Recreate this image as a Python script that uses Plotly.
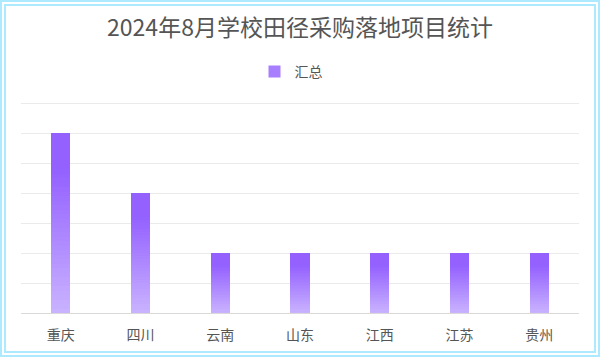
import plotly.graph_objects as go

categories = ["重庆", "四川", "云南", "山东", "江西", "江苏", "贵州"]
values = [6, 4, 2, 2, 2, 2, 2]
series_name = "汇总"
title_text = "2024年8月学校田径采购落地项目统计"

W, H = 600, 357
ML, MR, MT, MB = 21, 21, 100, 44
N = 40  # gradient slices

def hex2rgb(h):
    h = h.lstrip("#")
    return tuple(int(h[i:i + 2], 16) for i in (0, 2, 4))

bottom_c = hex2rgb("#c9b2ff")
top_c = hex2rgb("#9461ff")

def lerp(t):
    r = [round(bottom_c[i] + (top_c[i] - bottom_c[i]) * t) for i in range(3)]
    return f"rgb({r[0]},{r[1]},{r[2]})"

fig = go.Figure()
for k in range(N):
    t = min(1.0, (k / (N - 1)) * 1.25)
    fig.add_trace(go.Bar(
        x=categories,
        y=[v / N for v in values],
        marker=dict(color=lerp(t), line=dict(width=0)),
        name=series_name,
        showlegend=(k == N // 2),
        hoverinfo="skip",
    ))

pw = W - ML - MR
ph = H - MT - MB

def px2x(px):
    return (px - ML) / pw

def py2y(py):
    return (H - MB - py) / ph

border = "#aeeaff"
shapes = [
    dict(type="rect", xref="paper", yref="paper",
         x0=px2x(1), x1=px2x(W - 1), y0=py2y(H - 1), y1=py2y(1),
         line=dict(color=border, width=2), layer="above"),
    dict(type="rect", xref="paper", yref="paper",
         x0=px2x(5), x1=px2x(W - 5), y0=py2y(H - 5), y1=py2y(5),
         line=dict(color=border, width=2), layer="above"),
]

fig.update_layout(
    width=W, height=H,
    margin=dict(l=ML, r=MR, t=MT, b=MB),
    paper_bgcolor="white", plot_bgcolor="white",
    barmode="stack", bargap=0.76,
    font=dict(family="Noto Sans CJK SC, sans-serif", color="#555555"),
    title=dict(text=title_text, x=0.5, xanchor="center", y=1 - 28 / H, yanchor="middle",
               font=dict(size=23, color="#555555")),
    legend=dict(orientation="h", x=0.5 - 9 / pw, xanchor="center", y=py2y(72), yanchor="middle",
                font=dict(size=14, color="#555555"), itemwidth=30),
    shapes=shapes,
    xaxis=dict(showgrid=False, showline=True, linecolor="#d9d9d9", linewidth=1,
               ticks="", ticklabelstandoff=9, tickfont=dict(size=14, color="#555555"),
               fixedrange=True),
    yaxis=dict(range=[0, 7.1], dtick=1, showticklabels=False, showgrid=True,
               gridcolor="#eaeaea", gridwidth=1, zeroline=False, showline=False, fixedrange=True),
)

fig.write_html("out.html")
